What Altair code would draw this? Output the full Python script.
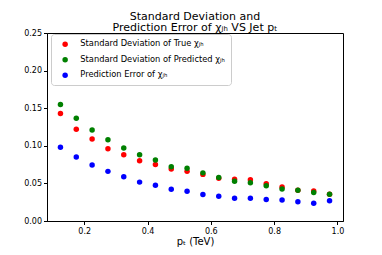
import altair as alt
import pandas as pd

pt = [0.125, 0.175, 0.225, 0.275, 0.325, 0.375, 0.425, 0.475, 0.525,
      0.575, 0.625, 0.675, 0.725, 0.775, 0.825, 0.875, 0.925, 0.975]
sd_true = [0.143, 0.122, 0.109, 0.096, 0.088, 0.080, 0.075, 0.069, 0.066,
           0.062, 0.057, 0.0556, 0.0548, 0.0496, 0.0452, 0.041, 0.040, 0.0355]
sd_pred = [0.155, 0.1365, 0.121, 0.108, 0.097, 0.088, 0.081, 0.072, 0.070,
           0.064, 0.058, 0.053, 0.051, 0.047, 0.0425, 0.041, 0.038, 0.0356]
pred_err = [0.098, 0.085, 0.0744, 0.066, 0.0587, 0.0517, 0.0474, 0.0421, 0.0395,
            0.0352, 0.033, 0.0304, 0.0304, 0.0287, 0.0278, 0.0256, 0.0235, 0.0269]

series_names = ["Standard Deviation of True \u03c7\u2c7c\u2095",
                "Standard Deviation of Predicted \u03c7\u2c7c\u2095",
                "Prediction Error of \u03c7\u2c7c\u2095"]
series_colors = ["red", "green", "blue"]

rows = []
for name, vals in zip(series_names, [sd_true, sd_pred, pred_err]):
    for x, v in zip(pt, vals):
        rows.append({"pt": x, "value": v, "series": name})
df = pd.DataFrame(rows)

FONT = "DejaVu Sans"

chart = alt.Chart(df).mark_circle(size=30, opacity=1).encode(
    x=alt.X("pt:Q", scale=alt.Scale(domain=[0.0825, 1.0175], nice=False, zero=False),
            axis=alt.Axis(title="p\u209c (TeV)", values=[0.2, 0.4, 0.6, 0.8, 1.0],
                          format=".1f", grid=False, labelPadding=3, titlePadding=1)),
    y=alt.Y("value:Q", scale=alt.Scale(domain=[0, 0.25], nice=False),
            axis=alt.Axis(title=None, values=[0, 0.05, 0.1, 0.15, 0.2, 0.25],
                          format=".2f", grid=False)),
    color=alt.Color("series:N", sort=series_names,
                    scale=alt.Scale(domain=series_names, range=series_colors),
                    legend=alt.Legend(title=None, orient="none", legendX=4, legendY=1,
                                      symbolType="circle", symbolSize=30,
                                      symbolStrokeWidth=0, labelFont=FONT,
                                      labelFontSize=8.3, labelColor="black",
                                      fillColor="white", strokeColor="#cccccc",
                                      cornerRadius=3, padding=6, symbolOffset=4,
                                      labelOffset=11, rowPadding=6.5)),
    order=alt.Order("series_order:Q"),
).transform_calculate(
    series_order=f"indexof({series_names!r}, datum.series)"
).properties(
    width=296, height=188,
    title=alt.TitleParams(
        text=["Standard Deviation and", "Prediction Error of \u03c7\u2c7c\u2095 VS Jet p\u209c"],
        font=FONT, fontSize=11, fontWeight="normal", color="black",
        anchor="middle", offset=-4, lineHeight=11.5),
    autosize=alt.AutoSizeParams(type="none"),
    padding={"left": 39, "top": 25, "right": 30, "bottom": 26},
).configure_view(
    stroke="black", strokeWidth=1
).configure_axis(
    domainColor="black", tickColor="black", labelColor="black",
    labelFont=FONT, labelFontSize=8, tickSize=3.5, labelPadding=2,
    titleFont=FONT, titleFontSize=10, titleFontWeight="normal", titleColor="black",
)

chart.save("out.html", embed_options={"renderer": "svg", "actions": False})
